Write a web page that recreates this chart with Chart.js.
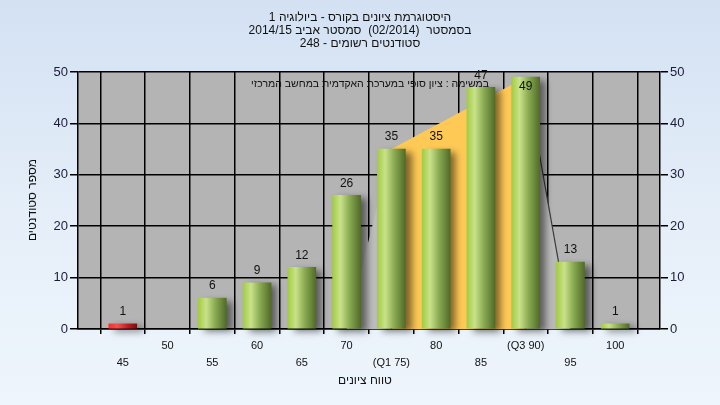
<!DOCTYPE html>
<html>
<head>
<meta charset="utf-8">
<script src="https://cdn.jsdelivr.net/npm/chart.js@4"></script>
<style>
  html, body { margin:0; padding:0; }
  body { width:720px; height:405px; overflow:hidden;
         background: linear-gradient(to bottom, #d3e1f3 0%, #e6eff9 55%, #eef5fc 100%); }
  canvas { display:block; }
</style>
</head>
<body>
<canvas id="histo" width="720" height="405"></canvas>
<script>
(function(){
  'use strict';

  // grade bins and student counts
  var bins   = [45, 50, 55, 60, 65, 70, 75, 80, 85, 90, 95, 100];
  var counts = [1, 0, 6, 9, 12, 26, 35, 35, 47, 49, 13, 1];
  var failBins = [45];

  // quartile band behind the bars
  var bandX = [70, 75, 90, 95];
  var bandY = [0, 35, 49, 0];

  var tickText = { 75: '(Q1 75)', 90: '(Q3 90)' };

  var titleLines = [
    'היסטוגרמת ציונים בקורס - ביולוגיה 1',
    'בסמסטר  (02/2014)  סמסטר אביב 2014/15',
    'סטודנטים רשומים - 248'
  ];
  var note = 'במשימה : ציון סופי במערכת האקדמית במחשב המרכזי';
  var xTitle = 'טווח ציונים';
  var yTitle = 'מספר סטודנטים';

  var FONT = '"Liberation Sans", Arial, sans-serif';

  function pts(xs, ys){ return xs.map(function(x, i){ return {x:x, y:ys[i]}; }); }

  function barFill(c){
    var chart = c.chart, xs = chart.scales && chart.scales.x;
    if(c.raw && !c.raw.y) return 'rgba(0,0,0,0)';
    var fail = c.raw && failBins.indexOf(c.raw.x) >= 0;
    var flat = fail ? '#d02020' : '#8fb446';
    if(!xs || !c.raw) return flat;
    var px = xs.getPixelForValue(c.raw.x);
    if(!isFinite(px)) return flat;
    var g = chart.ctx.createLinearGradient(px - 14, 0, px + 14, 0);
    if(fail){
      g.addColorStop(0, '#ff2a2a'); g.addColorStop(0.3, '#f25050');
      g.addColorStop(0.7, '#b81c1c'); g.addColorStop(1, '#7a0c0c');
    } else {
      g.addColorStop(0, '#a3cc44'); g.addColorStop(0.28, '#c9e28a');
      g.addColorStop(0.6, '#8aab52'); g.addColorStop(1, '#516b28');
    }
    return g;
  }

  var decor = {
    id: 'decor',
    beforeDraw: function(chart){
      var a = chart.chartArea, ctx = chart.ctx;
      ctx.save();
      ctx.fillStyle = '#b4b4b4';
      ctx.fillRect(a.left, a.top, a.right - a.left, a.bottom - a.top);
      ctx.restore();
    },
    beforeDatasetDraw: function(chart, args){
      if(args.meta.type !== 'bar') return;
      var ctx = chart.ctx;
      ctx.save();
      ctx.shadowColor = 'rgba(0,0,0,0.5)';
      ctx.shadowOffsetX = 6; ctx.shadowOffsetY = 3; ctx.shadowBlur = 7;
    },
    afterDatasetDraw: function(chart, args){
      if(args.meta.type !== 'bar') return;
      chart.ctx.restore();
    },
    afterDraw: function(chart){
      var ctx = chart.ctx, a = chart.chartArea;
      ctx.save();
      ctx.fillStyle = '#111';
      ctx.textAlign = 'center';
      ctx.textBaseline = 'middle';
      ctx.direction = 'rtl';
      ctx.font = '12px ' + FONT;
      titleLines.forEach(function(t, i){ ctx.fillText(t, 360, 18 + i * 13); });
      ctx.fillText(xTitle, 365, 381);
      ctx.save();
      ctx.translate(33, 200);
      ctx.rotate(-Math.PI / 2);
      ctx.fillText(yTitle, 0, 0);
      ctx.restore();

      // value labels on bars
      var meta = chart.getDatasetMeta(0);
      meta.data.forEach(function(el, i){
        var v = counts[i];
        if(!v) return;
        var y = el.y - 12;
        if(y < a.top + 3) y = el.y + 10;
        ctx.fillText(String(v), el.x, y);
      });

      ctx.font = '10.5px ' + FONT;
      ctx.fillText(note, 370, 84);
      ctx.restore();
    }
  };

  function yAxis(pos, w){
    return {
      position: pos, min: 0, max: 50,
      ticks: { stepSize: 10, color: '#1c1c3a', font: { size: 13, family: FONT }, padding: 2 },
      grid: { color: '#000', lineWidth: 1.5, tickLength: 8, drawOnChartArea: pos === 'left' },
      border: { color: '#000', width: 1.5 },
      afterFit: function(s){ s.width = w; }
    };
  }

  new Chart(document.getElementById('histo'), {
    type: 'bar',
    data: {
      datasets: [
        { type: 'bar', data: pts(bins, counts), backgroundColor: barFill,
          barThickness: 28, order: 0, clip: false, yAxisID: 'y' },
        { type: 'line', data: pts(bandX.slice(0, 2), bandY.slice(0, 2)), fill: 'origin',
          backgroundColor: '#bdbdbd', borderWidth: 0, pointRadius: 0, order: 2, yAxisID: 'y' },
        { type: 'line', data: pts(bandX.slice(1, 3), bandY.slice(1, 3)), fill: 'origin',
          backgroundColor: '#ffc955', borderWidth: 0, pointRadius: 0, order: 2, yAxisID: 'y' },
        { type: 'line', data: pts(bandX.slice(2, 4), bandY.slice(2, 4)), fill: 'origin',
          backgroundColor: '#b9b9b9', borderColor: '#3a3a3a', borderWidth: 1.2,
          pointRadius: 0, order: 1, yAxisID: 'y' }
      ]
    },
    options: {
      responsive: false,
      devicePixelRatio: 1,
      animation: false,
      layout: { padding: { top: 72, left: 0, right: 0, bottom: 0 } },
      plugins: { legend: { display: false }, tooltip: { enabled: false } },
      scales: {
        x: {
          type: 'linear', min: 40, max: 105, offset: false,
          ticks: {
            stepSize: 5, autoSkip: false, maxRotation: 0, padding: 3, color: '#111',
            font: { size: 11, family: FONT, lineHeight: 1.55 },
            callback: function(v){
              if(v <= 40 || v > 100) return '';
              var t = tickText[v] || String(v);
              return v % 10 === 0 ? [t, ''] : ['', t];
            }
          },
          grid: { color: '#000', lineWidth: 1.5, tickLength: 5 },
          border: { color: '#000', width: 1.5 },
          afterFit: function(s){ s.height = 76; }
        },
        y: yAxis('left', 78),
        y2: yAxis('right', 60)
      }
    },
    plugins: [decor]
  });
})();
</script>
</body>
</html>
